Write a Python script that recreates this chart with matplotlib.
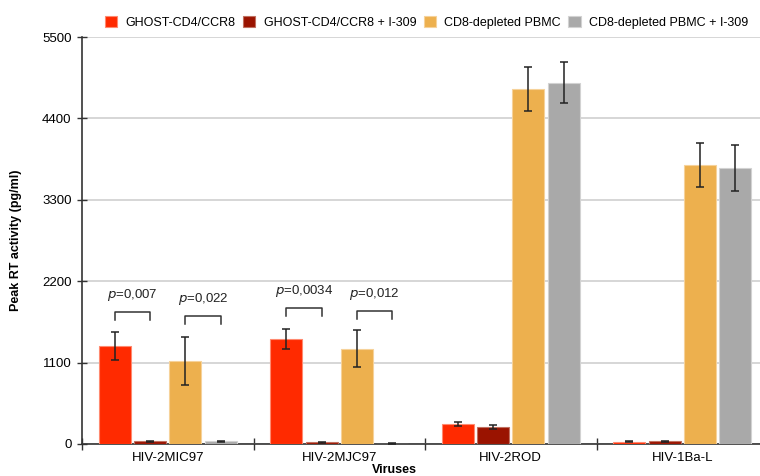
import matplotlib
matplotlib.use("Agg")
import matplotlib.pyplot as plt
import numpy as np

plt.rcParams['font.family'] = ['Liberation Sans', 'DejaVu Sans']

viruses = ["HIV-2MIC97", "HIV-2MJC97", "HIV-2ROD", "HIV-1Ba-L"]
series_names = ["GHOST-CD4/CCR8", "GHOST-CD4/CCR8 + I-309",
                "CD8-depleted PBMC", "CD8-depleted PBMC + I-309"]

ghost = [1320, 1420, 270, 30]
ghost_err = [190, 135, 22, 5]
ghost_i309 = [35, 25, 235, 35]
ghost_i309_err = [10, 8, 28, 8]
pbmc = [1120, 1290, 4800, 3770]
pbmc_err = [320, 250, 295, 297]
pbmc_i309 = [35, 5, 4880, 3730]
pbmc_i309_err = [10, 8, 278, 306]

values = [ghost, ghost_i309, pbmc, pbmc_i309]
errors = [ghost_err, ghost_i309_err, pbmc_err, pbmc_i309_err]
colors = ["#FF2A00", "#9A1300", "#EDB04E", "#A9A9A9"]
edges = ["#FF8A70", "#C07060", "#F6D29A", "#D2D2D2"]

# p-value annotations: (group, first series, second series, text, bracket top)
p_labels = [
    (0, 0, 1, "0,007", 1790),
    (0, 2, 3, "0,022", 1735),
    (1, 0, 1, "0,0034", 1840),
    (1, 2, 3, "0,012", 1795),
]

fig = plt.figure(figsize=(7.6, 4.76), dpi=100)
ax = fig.add_axes([82 / 760, 32 / 476, 686 / 760, 407 / 476])

pitch = 0.206
width = 0.186
x = np.arange(len(viruses))
for i, (vals, errs) in enumerate(zip(values, errors)):
    pos = x + (i - 1.5) * pitch
    ax.bar(pos, vals, width=width, color=colors[i], edgecolor=edges[i],
           linewidth=0.8, label=series_names[i], zorder=3)
    ax.errorbar(pos, vals, yerr=errs, fmt='none', ecolor='#222222',
                elinewidth=1.1, capsize=3.2, capthick=1.1, zorder=4)

for g, a, b, txt, top in p_labels:
    xa = g + (a - 1.5) * pitch
    xb = g + (b - 1.5) * pitch
    drop = 110
    ax.plot([xa, xa, xb, xb], [top - drop, top, top, top - drop],
            color='#333333', lw=1.1, zorder=4)
    ax.text((xa + xb) / 2, top + 230, r"$\it{p}$" + "=" + txt,
            ha='center', va='center', fontsize=9.5, color='#222222')

ax.set_xlim(-0.5, 3.5)
ax.set_ylim(0, 5500)
ax.set_yticks([0, 1100, 2200, 3300, 4400, 5500])
ax.set_xticks(x)
ax.set_xticklabels(viruses, fontsize=9.5)
ax.set_xticks(np.arange(-0.5, 3.6, 1.0), minor=True)
ax.tick_params(axis='x', which='major', length=0, pad=6)
ax.tick_params(axis='x', which='minor', direction='inout', length=8,
               width=1, color='#333333')
ax.tick_params(axis='y', direction='inout', length=7, width=1,
               color='#333333', labelsize=9.5, pad=4)

ax.yaxis.grid(True, color='#CFCFCF', linewidth=1.2, zorder=0)
ax.set_axisbelow(True)
for s in ['top', 'right']:
    ax.spines[s].set_visible(False)
for s in ['left', 'bottom']:
    ax.spines[s].set_color('#333333')
    ax.spines[s].set_linewidth(1.2)

ax.set_ylabel("Peak RT activity (pg/ml)", fontsize=9, fontweight='bold')
ax.yaxis.set_label_coords(-0.0875, 0.5)
ax.set_xlabel("Viruses", fontsize=9, fontweight='bold')
ax.xaxis.set_label_coords(0.455, -0.049)

fig.legend(loc='upper left', bbox_to_anchor=(96 / 760, 0.985), ncol=4,
           frameon=False, fontsize=9, handlelength=1.0, handleheight=1.0,
           handletextpad=0.65, columnspacing=0.6, borderaxespad=0.3)

fig.savefig("out.png", dpi=100)
